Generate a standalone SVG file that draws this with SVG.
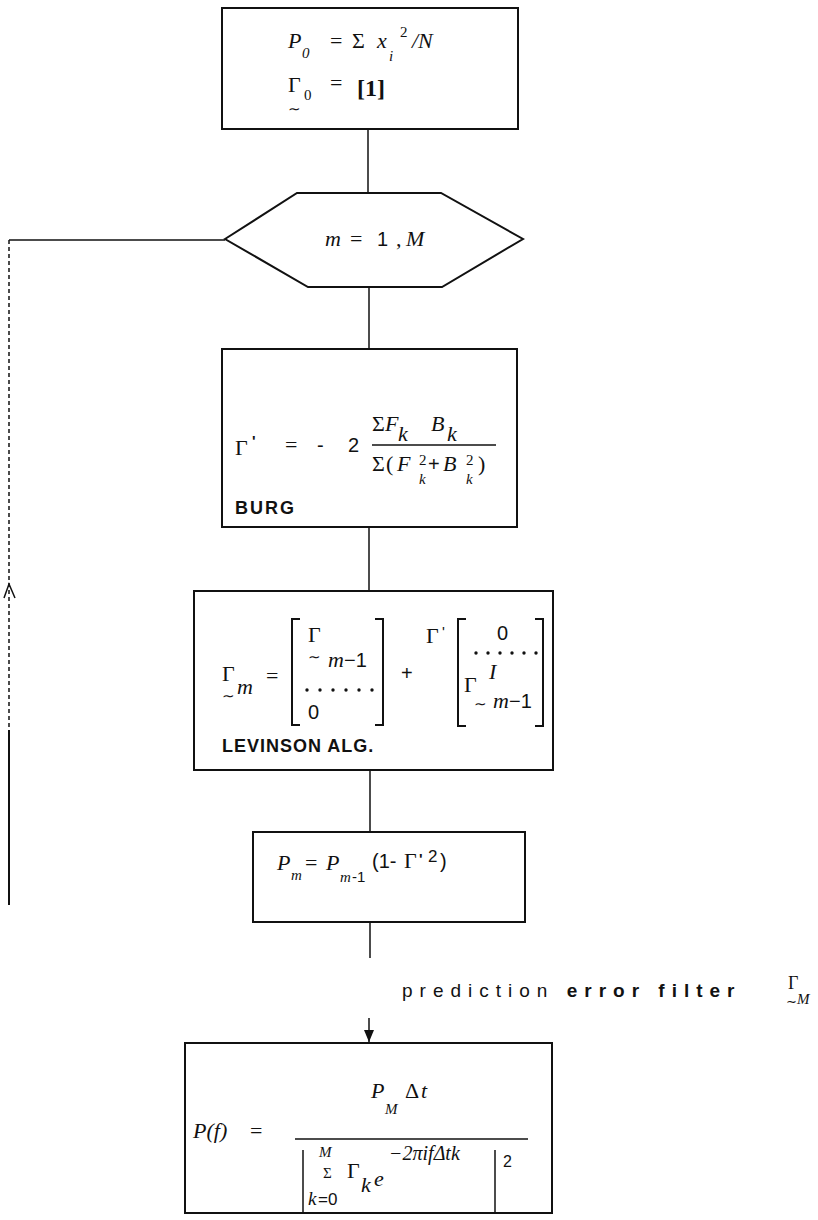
<svg xmlns="http://www.w3.org/2000/svg" width="818" height="1220" viewBox="0 0 818 1220">
<style>
.box{fill:none;stroke:#111;stroke-width:2}
.ln{fill:none;stroke:#111;stroke-width:1.5}
.m{font-family:"Liberation Serif",serif;font-style:italic;font-size:22px;fill:#111}
.r{font-family:"Liberation Serif",serif;font-size:22px;fill:#111}
.s{font-family:"Liberation Serif",serif;font-style:italic;font-size:15px;fill:#111}
.sr{font-family:"Liberation Serif",serif;font-size:15px;fill:#111}
.tl{font-family:"DejaVu Sans",sans-serif;font-size:15px;fill:#111}
.t{font-family:"Liberation Sans",sans-serif;font-size:20px;fill:#111}
.b{font-family:"Liberation Sans",sans-serif;font-weight:bold;font-size:18px;fill:#111}
.p{font-family:"Liberation Sans",sans-serif;font-size:19px;fill:#111;letter-spacing:7px}
.pb{font-family:"Liberation Sans",sans-serif;font-weight:bold;font-size:19px;fill:#111;letter-spacing:7px}
.dot{fill:#111}
</style>
<defs>
<marker id="ah" markerWidth="12" markerHeight="10" refX="12" refY="5" orient="auto" markerUnits="userSpaceOnUse">
<path d="M0,0 L12,5 L0,10 Z" fill="#111"/>
</marker>
</defs>
<g id="connectors">
<line class="ln" x1="368" y1="129" x2="368" y2="193"/>
<line class="ln" x1="369" y1="287" x2="369" y2="349"/>
<line class="ln" x1="369" y1="527" x2="369" y2="591"/>
<line class="ln" x1="370" y1="770" x2="370" y2="832"/>
<line class="ln" x1="370" y1="922" x2="370" y2="958"/>
<line class="ln" x1="369" y1="1018" x2="369" y2="1042" marker-end="url(#ah)"/>
<line class="ln" x1="225" y1="240" x2="9" y2="240"/>
<line class="ln" x1="9" y1="240" x2="9" y2="730" stroke="#444" stroke-dasharray="4,3"/>
<line class="ln" x1="9" y1="730" x2="9" y2="905" style="stroke-width:2"/>
<polyline class="ln" points="4,598 9,584 15,598"/>
</g>
<g id="init">
<rect class="box" x="222" y="8" width="296" height="121"/>
<text class="m" x="288" y="48">P</text>
<text class="s" x="302" y="58">0</text>
<text class="r" x="330" y="48">=</text>
<text class="r" x="352" y="48">Σ</text>
<text class="m" x="377" y="48">x</text>
<text class="s" x="389" y="61">i</text>
<text class="sr" x="400" y="37">2</text>
<text class="m" x="412" y="48">/N</text>
<text class="r" x="288" y="92">Γ</text>
<text class="sr" x="304" y="100">0</text>
<text class="tl" x="288" y="114">∼</text>
<text class="r" x="330" y="90">=</text>
<text class="r" x="357" y="96" style="font-weight:bold;font-size:24px">[1]</text>
</g>
<g id="loop">
<polygon class="box" points="225,239 297,193 441,193 523,239 442,287 308,287"/>
<text class="m" x="325" y="246">m</text>
<text class="r" x="350" y="246">=</text>
<text class="t" x="377" y="246">1</text>
<text class="r" x="396" y="246">,</text>
<text class="m" x="406" y="246">M</text>
</g>
<g id="burg">
<rect class="box" x="222" y="349" width="295" height="178"/>
<text class="r" x="235" y="455">Γ</text>
<text class="t" x="252" y="446" style="font-size:15px;font-weight:bold">'</text>
<text class="r" x="285" y="452">=</text>
<text class="t" x="317" y="452">-</text>
<text class="t" x="348" y="452">2</text>
<text class="r" x="372" y="431">Σ</text>
<text class="m" x="385" y="431">F</text>
<text class="m" x="398" y="441">k</text>
<text class="m" x="431" y="431">B</text>
<text class="m" x="447" y="441">k</text>
<line class="ln" x1="372" y1="445" x2="496" y2="445"/>
<text class="r" x="372" y="471">Σ</text>
<text class="r" x="386" y="471">(</text>
<text class="m" x="397" y="471">F</text>
<text class="sr" x="419" y="465">2</text>
<text class="s" x="419" y="484">k</text>
<text class="t" x="428" y="471">+</text>
<text class="m" x="443" y="471">B</text>
<text class="sr" x="466" y="465">2</text>
<text class="s" x="466" y="484">k</text>
<text class="r" x="478" y="471">)</text>
<text class="b" x="235" y="514" style="letter-spacing:2px">BURG</text>
</g>
<g id="levinson">
<rect class="box" x="194" y="591" width="359" height="179"/>
<text class="r" x="222" y="681">Γ</text>
<text class="tl" x="222" y="701">∼</text>
<text class="m" x="237" y="694">m</text>
<text class="r" x="266" y="683">=</text>
<path class="box" d="M300,619 H292 V725 H300 M375,619 H383 V725 H375"/>
<text class="r" x="308" y="642">Γ</text>
<text class="tl" x="308" y="662">∼</text>
<text class="m" x="328" y="667">m</text>
<text class="t" x="344" y="667">−1</text>
<g class="dot"><circle cx="307" cy="690" r="1.7"/><circle cx="320" cy="690" r="1.7"/><circle cx="333" cy="690" r="1.7"/><circle cx="346" cy="690" r="1.7"/><circle cx="359" cy="690" r="1.7"/><circle cx="372" cy="690" r="1.7"/></g>
<text class="t" x="308" y="719">0</text>
<text class="t" x="401" y="680">+</text>
<text class="r" x="426" y="643">Γ</text>
<text class="t" x="442" y="637" style="font-size:15px">'</text>
<path class="box" d="M466,619 H458 V726 H466 M535,619 H543 V726 H535"/>
<text class="t" x="497" y="640">0</text>
<g class="dot"><circle cx="476" cy="653" r="1.7"/><circle cx="488" cy="653" r="1.7"/><circle cx="500" cy="653" r="1.7"/><circle cx="512" cy="653" r="1.7"/><circle cx="524" cy="653" r="1.7"/><circle cx="536" cy="653" r="1.7"/></g>
<text class="m" x="489" y="679">I</text>
<text class="r" x="464" y="692">Γ</text>
<text class="tl" x="474" y="709">∼</text>
<text class="m" x="493" y="708">m</text>
<text class="t" x="509" y="708">−1</text>
<text class="b" x="222" y="752" style="letter-spacing:1px">LEVINSON ALG.</text>
</g>
<g id="power">
<rect class="box" x="253" y="832" width="272" height="90"/>
<text class="m" x="277" y="870">P</text>
<text class="s" x="291" y="880">m</text>
<text class="r" x="305" y="870">=</text>
<text class="m" x="326" y="870">P</text>
<text class="s" x="340" y="882">m</text>
<text class="t" x="352" y="882" style="font-size:15px">-1</text>
<text class="t" x="372" y="868">(1-</text>
<text class="r" x="404" y="868">Γ</text>
<text class="t" x="419" y="864" style="font-size:15px;font-weight:bold">'</text>
<text class="t" x="428" y="862" style="font-size:17px">2</text>
<text class="t" x="440" y="868">)</text>
</g>
<g id="filter-label">
<text x="402" y="997"><tspan class="p">prediction </tspan><tspan class="pb">error filter</tspan></text>
<text class="r" x="788" y="989" style="font-size:18px">Γ</text>
<text class="tl" x="786" y="1006" style="font-size:13px">∼</text>
<text class="s" x="797" y="1004">M</text>
</g>
<g id="spectrum">
<rect class="box" x="185" y="1043" width="367" height="170"/>
<text class="m" x="193" y="1138">P(f)</text>
<text class="r" x="250" y="1138">=</text>
<text class="m" x="371" y="1098">P</text>
<text class="s" x="385" y="1114">M</text>
<text class="r" x="405" y="1098">Δ</text>
<text class="m" x="421" y="1098">t</text>
<line class="ln" x1="295" y1="1139" x2="528" y2="1139"/>
<line class="ln" x1="303" y1="1150" x2="303" y2="1212"/>
<line class="ln" x1="495" y1="1150" x2="495" y2="1212"/>
<text class="s" x="319" y="1157">M</text>
<text class="sr" x="323" y="1178">Σ</text>
<text class="s" x="308" y="1205" style="font-size:19px">k</text>
<text class="t" x="318" y="1205" style="font-size:17px">=0</text>
<text class="r" x="347" y="1178">Γ</text>
<text class="m" x="361" y="1192">k</text>
<text class="m" x="374" y="1186">e</text>
<text class="s" x="389" y="1160" style="font-size:20px">−2πifΔtk</text>
<text class="t" x="503" y="1167" style="font-size:16px">2</text>
</g>
</svg>
